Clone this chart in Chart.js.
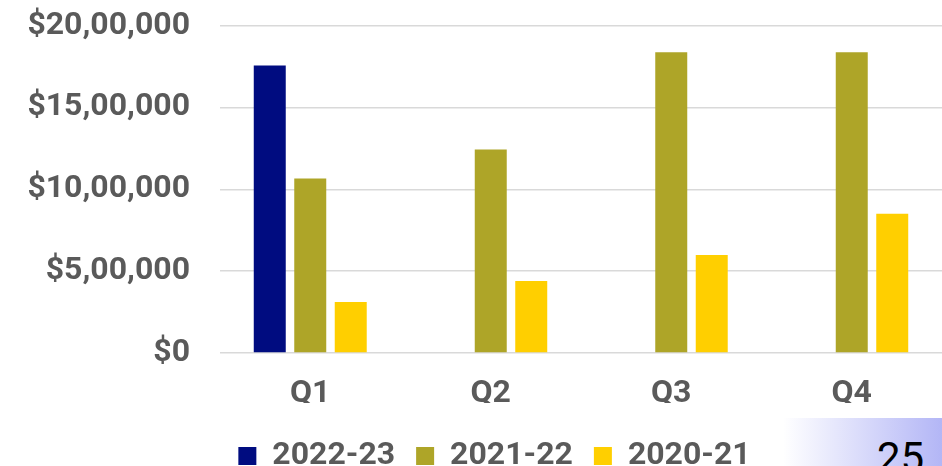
<!DOCTYPE html>
<html>
<head>
<meta charset="utf-8">
<script src="https://cdn.jsdelivr.net/npm/chart.js@4/dist/chart.umd.min.js"></script>
<style>
  html, body { margin: 0; padding: 0; background: #fff; }
  #wrap { position: relative; width: 942px; height: 466px; overflow: hidden; }
  #slideNo {
    position: absolute; left: 783px; top: 418px; width: 159px; height: 48px;
    background: linear-gradient(to right, #ffffff 0%, #b3b6f6 100%);
    font-family: Roboto, sans-serif; font-size: 42px; color: #000;
    box-sizing: border-box; padding-left: 94px; line-height: 80px;
    overflow: hidden;
  }
  canvas { position: absolute; left: 0; top: 0; }
</style>
</head>
<body>
<div id="wrap">
  <div id="slideNo">25</div>
  <canvas id="c" width="942" height="466"></canvas>
</div>
<script>
const categories = ['Q1', 'Q2', 'Q3', 'Q4'];
const seriesNames = ['2022-23', '2021-22', '2020-21'];
const values2022_23 = [1755000, null, null, null];
const values2021_22 = [1065000, 1242000, 1836000, 1836000];
const values2020_21 = [311000, 440000, 598000, 851000];
const tickValues = [0, 500000, 1000000, 1500000, 2000000];
const tickLabels = ['$0', '$5,00,000', '$10,00,000', '$15,00,000', '$20,00,000'];
const colors = ['#000c80', '#aea528', '#ffcf00'];

const textColor = '#5a5a5a';
const fontFamily = 'Roboto, sans-serif';

const shiftLegend = {
  id: 'shiftLegend',
  afterLayout(chart) {
    const lg = chart.legend;
    if (!lg) return;
    lg.left += 23.5; lg.right += 23.5;
    lg.top += 16; lg.bottom += 16;
  }
};

new Chart(document.getElementById('c'), {
  type: 'bar',
  data: {
    labels: categories,
    datasets: [
      { label: seriesNames[0], data: values2022_23, backgroundColor: colors[0] },
      { label: seriesNames[1], data: values2021_22, backgroundColor: colors[1] },
      { label: seriesNames[2], data: values2020_21, backgroundColor: colors[2] }
    ]
  },
  plugins: [shiftLegend],
  options: {
    responsive: false,
    animation: false,
    layout: { padding: { top: 25.5, left: 0, right: 0, bottom: 0 } },
    datasets: { bar: { categoryPercentage: 0.673, barPercentage: 0.79, skipNull: false } },
    plugins: {
      tooltip: { enabled: false },
      legend: {
        position: 'bottom',
        labels: {
          boxWidth: 18, boxHeight: 18, padding: 21,
          color: textColor,
          font: { family: fontFamily, size: 32, weight: 'bold' }
        }
      }
    },
    scales: {
      x: {
        grid: { display: false, drawTicks: false },
        border: { display: false },
        ticks: {
          color: textColor, padding: 22,
          font: { family: fontFamily, size: 32, weight: 'bold' }
        },
        afterFit(scale) { scale.height = 50; }
      },
      y: {
        min: 0, max: 2000000,
        afterBuildTicks(scale) { scale.ticks = tickValues.map(v => ({ value: v })); },
        grid: { color: '#d9d9d9', lineWidth: 1.5, drawTicks: true, tickLength: 30, tickColor: 'rgba(0,0,0,0)' },
        border: { display: false },
        ticks: {
          color: textColor, padding: 0,
          font: { family: fontFamily, size: 32, weight: 'bold' },
          callback(value) { const i = tickValues.indexOf(value); return i >= 0 ? tickLabels[i] : ''; }
        },
        afterFit(scale) { scale.width = 220; }
      }
    }
  }
});
</script>
</body>
</html>
